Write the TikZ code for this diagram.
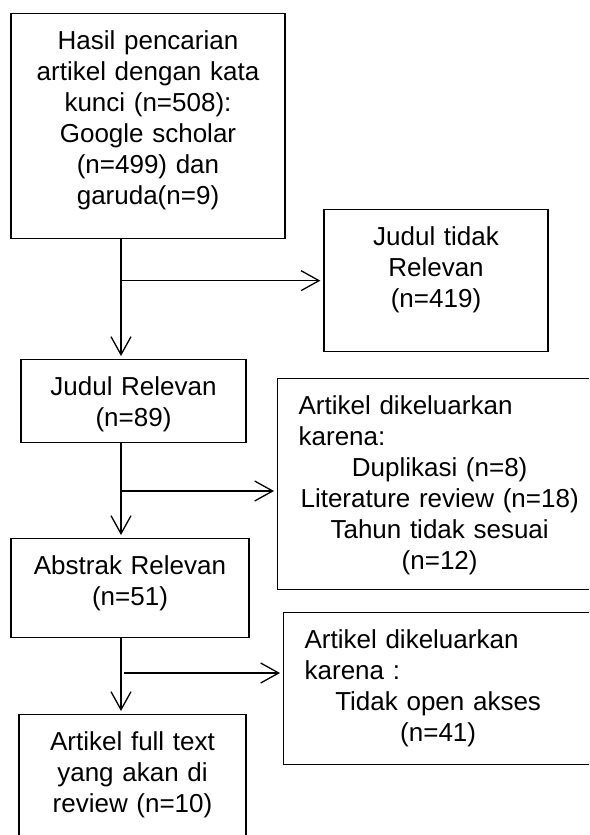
\documentclass[tikz,border=0pt]{standalone}
\usepackage{fontspec}
\setmainfont{Liberation Sans}
\usetikzlibrary{arrows.meta}
\setlength{\parindent}{0pt}

\tikzset{
  flowbox/.style={draw, line width=1.3pt, inner xsep=0pt, inner ysep=0pt, text height=36pt, font=\fontsize{26}{31}\selectfont},
  flowarrow/.style={line width=1.3pt, shorten >=3pt, -{Straight Barb[length=18pt,width=20pt]}}
}

\begin{document}
\begin{tikzpicture}[x=1pt,y=-1pt]
\useasboundingbox (0,0) rectangle (589,835);
\clip (0,0) rectangle (589,835);

\node[flowbox, anchor=north, text width=274pt, align=center, text depth=189pt] (hasil) at (148,13) {Hasil pencarian\\ artikel dengan kata\\ kunci (n=508):\\ Google scholar\\ (n=499) dan\\ garuda(n=9)};
\node[flowbox, anchor=north, text width=224pt, align=center, text depth=106pt] (tidakrel) at (436,209) {Judul tidak\\ Relevan\\ (n=419)};
\node[flowbox, anchor=north, text width=225pt, align=center, text depth=47pt] (judulrel) at (133.5,359) {Judul Relevan\\ (n=89)};
\node[flowbox, anchor=north west, inner xsep=21pt, text width=282pt, align=left, text depth=175pt] (keluar1) at (277,378) {Artikel dikeluarkan\\ karena:\par\centering Duplikasi (n=8)\\ Literature review (n=18)\\ Tahun tidak sesuai\\ (n=12)\par};
\node[flowbox, anchor=north, text width=238pt, align=center, text depth=63pt] (abstrak) at (130,538) {Abstrak Relevan\\ (n=51)};
\node[flowbox, anchor=north west, inner xsep=21pt, text width=267pt, align=left, text depth=116pt] (keluar2) at (283,612) {Artikel dikeluarkan\\ karena :\par\centering Tidak open akses\\ (n=41)\par};
\node[flowbox, anchor=north, text width=227pt, align=center, text depth=104pt] (fulltext) at (132.5,714) {Artikel full text\\ yang akan di\\ review (n=10)};

\coordinate (trunk) at (121,0);
\coordinate (split1) at (121,491);
\coordinate (split2) at (124,673);

\draw[flowarrow] (trunk |- hasil.south) -- (trunk |- judulrel.north);
\draw[flowarrow] (trunk |- tidakrel.west) -- (tidakrel.west);
\draw[flowarrow] (trunk |- judulrel.south) -- (trunk |- abstrak.north);
\draw[flowarrow] (split1) -- (split1 -| keluar1.west);
\draw[flowarrow] (trunk |- abstrak.south) -- (trunk |- fulltext.north);
\draw[flowarrow] (split2) -- (split2 -| keluar2.west);
\end{tikzpicture}
\end{document}
